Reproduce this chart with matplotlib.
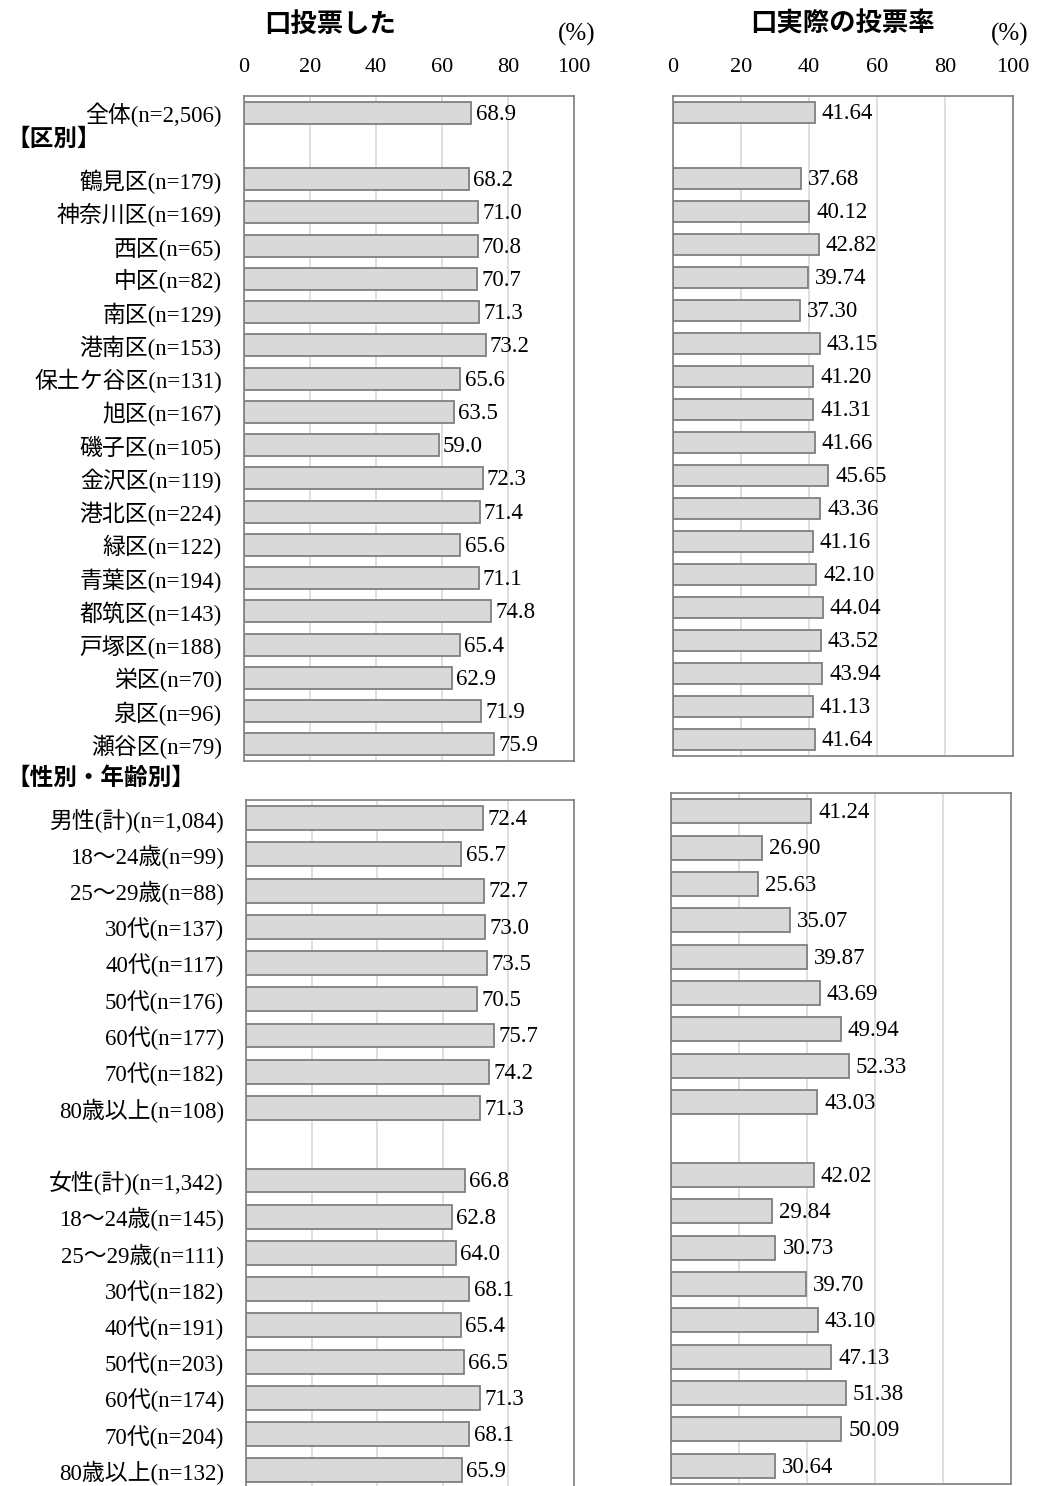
import numpy as np
import matplotlib
matplotlib.use("Agg")
import matplotlib.pyplot as plt

plt.rcParams['font.family'] = ['Liberation Serif', 'Noto Sans CJK JP']

# ---- data ----
top_labels = ["全体(n=2,506)", "", "鶴見区(n=179)", "神奈川区(n=169)", "西区(n=65)", "中区(n=82)",
              "南区(n=129)", "港南区(n=153)", "保土ケ谷区(n=131)", "旭区(n=167)", "磯子区(n=105)",
              "金沢区(n=119)", "港北区(n=224)", "緑区(n=122)", "青葉区(n=194)", "都筑区(n=143)",
              "戸塚区(n=188)", "栄区(n=70)", "泉区(n=96)", "瀬谷区(n=79)"]
top_voted = [68.9, None, 68.2, 71.0, 70.8, 70.7, 71.3, 73.2, 65.6, 63.5, 59.0, 72.3, 71.4,
             65.6, 71.1, 74.8, 65.4, 62.9, 71.9, 75.9]
top_actual = [41.64, None, 37.68, 40.12, 42.82, 39.74, 37.30, 43.15, 41.20, 41.31, 41.66,
              45.65, 43.36, 41.16, 42.10, 44.04, 43.52, 43.94, 41.13, 41.64]

bottom_labels = ["男性(計)(n=1,084)", "18～24歳(n=99)", "25～29歳(n=88)", "30代(n=137)",
                 "40代(n=117)", "50代(n=176)", "60代(n=177)", "70代(n=182)", "80歳以上(n=108)", "",
                 "女性(計)(n=1,342)", "18～24歳(n=145)", "25～29歳(n=111)", "30代(n=182)",
                 "40代(n=191)", "50代(n=203)", "60代(n=174)", "70代(n=204)", "80歳以上(n=132)"]
bottom_voted = [72.4, 65.7, 72.7, 73.0, 73.5, 70.5, 75.7, 74.2, 71.3, None,
                66.8, 62.8, 64.0, 68.1, 65.4, 66.5, 71.3, 68.1, 65.9]
bottom_actual = [41.24, 26.90, 25.63, 35.07, 39.87, 43.69, 49.94, 52.33, 43.03, None,
                 42.02, 29.84, 30.73, 39.70, 43.10, 47.13, 51.38, 50.09, 30.64]

xticks = [0, 20, 40, 60, 80, 100]

W, H = 1043, 1486
fig = plt.figure(figsize=(W / 100, H / 100), dpi=100)


def px_axes(x0, x1, y0, y1):
    return fig.add_axes([x0 / W, 1 - y1 / H, (x1 - x0) / W, (y1 - y0) / H])


EDGE = '#7f7f7f'
FILL = '#d9d9d9'
GRID = '#d9d9d9'


def panel(ax, values, fmt, labels=None, ticks_top=False, gap=3, vsize=16.5):
    n = len(values)
    idx = [i for i, v in enumerate(values) if v is not None]
    vals = [values[i] for i in idx]
    ax.barh(idx, vals, height=0.66, color=FILL, edgecolor=EDGE, linewidth=1.3, zorder=2)
    for i, v in zip(idx, vals):
        ax.annotate(fmt.format(v), (v, i), xytext=(gap, -1), textcoords='offset points',
                    ha='left', va='center', fontsize=vsize, family='Liberation Serif', zorder=3)
    ax.set_xlim(0, 100)
    ax.set_ylim(n - 0.5, -0.5)
    ax.set_xticks(xticks)
    ax.grid(axis='x', color=GRID, linewidth=1.2, zorder=0)
    ax.set_axisbelow(True)
    for s in ax.spines.values():
        s.set_color(EDGE)
        s.set_linewidth(1.2)
    if ticks_top:
        ax.tick_params(axis='x', top=True, labeltop=True, bottom=False, labelbottom=False,
                       length=0, pad=14, labelsize=16)
    else:
        ax.tick_params(axis='x', top=False, labeltop=False, bottom=False, labelbottom=False, length=0)
    ax.set_yticks(range(n))
    if labels is not None:
        ax.set_yticklabels(labels, fontsize=16.5, va='center_baseline')
        ax.tick_params(axis='y', length=0, pad=16)
    else:
        ax.set_yticklabels([])
        ax.tick_params(axis='y', length=0)


ax1 = px_axes(244, 574, 96, 761)
panel(ax1, top_voted, "{:.1f}", top_labels, ticks_top=True, gap=3, vsize=16.5)
ax2 = px_axes(673, 1013, 96, 756)
panel(ax2, top_actual, "{:.2f}", None, ticks_top=True, gap=5, vsize=16.5)
ax3 = px_axes(246, 574, 800, 1488.5)
panel(ax3, bottom_voted, "{:.1f}", bottom_labels, gap=3, vsize=16.5)
ax4 = px_axes(671, 1011, 793, 1484)
panel(ax4, bottom_actual, "{:.2f}", None, gap=5, vsize=16.5)

# titles and headers
sans = ['Noto Sans CJK JP']
fig.text(330 / W, 1 - 24 / H, "口投票した", ha='center', va='center', fontsize=19,
         family=sans, weight='bold')
fig.text(842 / W, 1 - 24 / H, "口実際の投票率", ha='center', va='center', fontsize=19,
         family=sans, weight='bold')
fig.text(577 / W, 1 - 34 / H, "(%)", ha='center', va='center', fontsize=18, family='Liberation Serif')
fig.text(1010 / W, 1 - 34 / H, "(%)", ha='center', va='center', fontsize=18, family='Liberation Serif')
fig.text(6 / W, 1 - 139 / H, "【区別】", ha='left', va='center', fontsize=17, family=sans, weight='bold')
fig.text(6 / W, 1 - 778 / H, "【性別・年齢別】", ha='left', va='center', fontsize=17, family=sans,
         weight='bold')

fig.savefig("out.png", dpi=100)
